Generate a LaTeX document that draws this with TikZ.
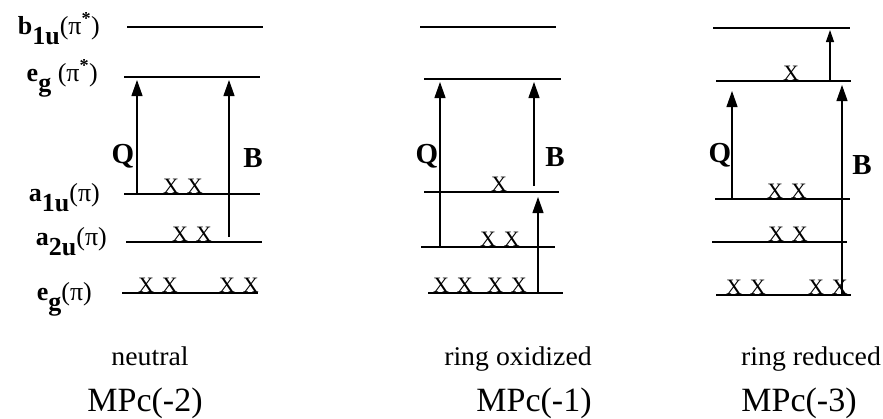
\documentclass[tikz,border=0pt]{standalone}
\usepackage{fontspec}
\setmainfont{Liberation Serif}
\usetikzlibrary{arrows.meta}
\newcommand{\orb}[3]{\textbf{#1}\raisebox{-0.9ex}{\textbf{#2}}#3}
\begin{document}
\begin{tikzpicture}[x=1pt,y=-1pt,
  level/.style={line width=1.7pt},
  trans/.style={line width=1.2pt,-{Triangle[length=16pt,width=11pt]}},
  smalltrans/.style={line width=1.2pt,-{Triangle[length=12pt,width=8pt]}},
  xx/.style={font=\fontsize{22}{22}\selectfont,anchor=base,inner sep=0pt},
  lab/.style={font=\fontsize{26}{26}\selectfont,anchor=base east,inner sep=0pt},
  qb/.style={font=\fontsize{29}{29}\selectfont\bfseries,inner sep=0pt},
  state/.style={font=\fontsize{27}{27}\selectfont,anchor=base,inner sep=0pt,xscale=1.03},
  mpc/.style={font=\fontsize{34}{34}\selectfont,anchor=base,inner sep=0pt}]
\useasboundingbox (0,0) rectangle (883,418);

% ---------------- left: neutral ----------------
\node[lab] (lb1u) at (100,34) {\orb{b}{1u}{(π\textsuperscript{\textbf{*}})}};
\node[lab] (leg2) at (98,81) {\orb{e}{g}{ (π\textsuperscript{\textbf{*}})}};
\node[lab] (la1u) at (100,201) {\orb{a}{1u}{(π)}};
\node[lab] (la2u) at (107,245) {\orb{a}{2u}{(π)}};
\node[lab] (leg1) at (92,300) {\orb{e}{g}{(π)}};

\coordinate (A5l) at (127,27);  \coordinate (A5r) at (263,27);
\coordinate (A4l) at (124,77);  \coordinate (A4r) at (260,77);
\coordinate (A3l) at (124,194); \coordinate (A3r) at (260,194);
\coordinate (A2l) at (126,242); \coordinate (A2r) at (262,242);
\coordinate (A1l) at (122,293); \coordinate (A1r) at (258,293);
\foreach \i in {1,...,5} {\draw[level] (A\i l) -- (A\i r);}

\coordinate (AQs) at (137,194); \coordinate (AQe) at (137,80);
\coordinate (ABs) at (229,237); \coordinate (ABe) at (229,80);
\draw[trans] (AQs) -- (AQe);
\draw[trans] (ABs) -- (ABe);
\node[qb] (AQ) at (123,156) {Q};
\node[qb] (AB) at (253,158) {B};

\node[xx] (Ax3) at (183,193) {X\hspace{8pt}X};
\node[xx] (Ax2) at (192,241) {X\hspace{8pt}X};
\node[xx] (Ax1a) at (158,292) {X\hspace{8pt}X};
\node[xx] (Ax1b) at (239,292) {X\hspace{8pt}X};

\node[state] (An) at (150,365) {neutral};
\node[mpc] (Am) at (145,411) {MPc(-2)};

% ---------------- middle: ring oxidized ----------------
\coordinate (B5l) at (420,27);  \coordinate (B5r) at (556,27);
\coordinate (B4l) at (424,79);  \coordinate (B4r) at (561,79);
\coordinate (B3l) at (424,192); \coordinate (B3r) at (559,192);
\coordinate (B2l) at (421,247); \coordinate (B2r) at (555,247);
\coordinate (B1l) at (428,293); \coordinate (B1r) at (563,293);
\foreach \i in {1,...,5} {\draw[level] (B\i l) -- (B\i r);}

\coordinate (BQs) at (440,247); \coordinate (BQe) at (440,82);
\coordinate (BBs) at (534,186); \coordinate (BBe) at (534,82);
\coordinate (BSs) at (538,293); \coordinate (BSe) at (538,197);
\draw[trans] (BQs) -- (BQe);
\draw[trans] (BBs) -- (BBe);
\draw[trans] (BSs) -- (BSe);
\node[qb] (BQ) at (427,156) {Q};
\node[qb] (BB) at (555,157) {B};

\node[xx] (Bx3) at (499,191) {X};
\node[xx] (Bx2) at (500,246) {X\hspace{8pt}X};
\node[xx] (Bx1a) at (453,292) {X\hspace{8pt}X};
\node[xx] (Bx1b) at (507,292) {X\hspace{8pt}X};

\node[state] (Bn) at (518,365) {ring oxidized};
\node[mpc] (Bm) at (534,411) {MPc(-1)};

% ---------------- right: ring reduced ----------------
\coordinate (C5l) at (713,28);  \coordinate (C5r) at (850,28);
\coordinate (C4l) at (716,81);  \coordinate (C4r) at (851,81);
\coordinate (C3l) at (715,199); \coordinate (C3r) at (850,199);
\coordinate (C2l) at (712,242); \coordinate (C2r) at (847,242);
\coordinate (C1l) at (716,295); \coordinate (C1r) at (851,295);
\foreach \i in {1,...,5} {\draw[level] (C\i l) -- (C\i r);}

\coordinate (CSs) at (830,81);  \coordinate (CSe) at (830,30);
\coordinate (CQs) at (732,199); \coordinate (CQe) at (732,91);
\coordinate (CBs) at (842,295); \coordinate (CBe) at (842,85);
\draw[smalltrans] (CSs) -- (CSe);
\draw[trans] (CQs) -- (CQe);
\draw[trans] (CBs) -- (CBe);
\node[qb] (CQ) at (720,155) {Q};
\node[qb] (CB) at (862,165) {B};

\node[xx] (Cx4) at (791,80) {X};
\node[xx] (Cx3) at (787,198) {X\hspace{8pt}X};
\node[xx] (Cx2) at (788,241) {X\hspace{8pt}X};
\node[xx] (Cx1a) at (746,294) {X\hspace{8pt}X};
\node[xx] (Cx1b) at (828,294) {X\hspace{8pt}X};

\node[state] (Cn) at (811,365) {ring reduced};
\node[mpc] (Cm) at (799,411) {MPc(-3)};
\end{tikzpicture}
\end{document}
